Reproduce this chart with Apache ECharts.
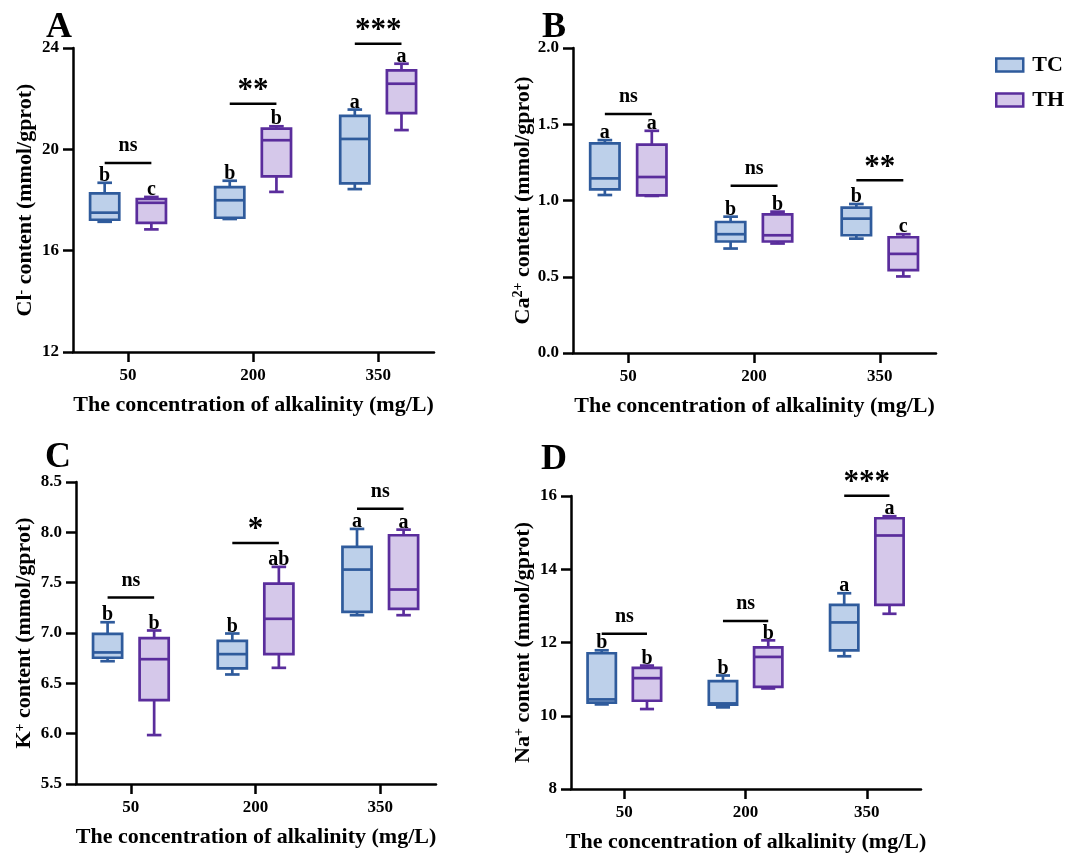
<!DOCTYPE html>
<html>
<head>
<meta charset="utf-8">
<script src="https://cdn.jsdelivr.net/npm/echarts@6/dist/echarts.min.js"></script>
<style>html,body{margin:0;background:#fff}#main{width:1069px;height:854px}</style>
</head>
<body>
<div id="main"></div>
<script>
const concentrations = [50, 200, 350];

// box stats per concentration: [min, Q1, median, Q3, max]
const clTC = [[17.14, 17.22, 17.5, 18.26, 18.68], [17.25, 17.3, 17.99, 18.51, 18.76], [18.43, 18.66, 20.41, 21.32, 21.57]];
const clTH = [[16.84, 17.1, 17.89, 18.04, 18.12], [18.32, 18.93, 20.36, 20.82, 20.91], [20.76, 21.43, 22.59, 23.12, 23.38]];
const caTC = [[1.036, 1.073, 1.145, 1.374, 1.396], [0.685, 0.731, 0.779, 0.859, 0.894], [0.75, 0.772, 0.881, 0.953, 0.977]];
const caTH = [[1.03, 1.034, 1.154, 1.367, 1.457], [0.718, 0.731, 0.772, 0.909, 0.927], [0.502, 0.543, 0.65, 0.759, 0.779]];
const kTC = [[6.72, 6.754, 6.807, 6.992, 7.107], [6.588, 6.648, 6.79, 6.922, 6.995], [7.177, 7.21, 7.63, 7.855, 8.034]];
const kTH = [[5.986, 6.334, 6.74, 6.949, 7.025], [6.654, 6.79, 7.141, 7.491, 7.657], [7.177, 7.24, 7.432, 7.971, 8.027]];
const naTC = [[10.31, 10.356, 10.446, 11.706, 11.787], [10.229, 10.301, 10.337, 10.945, 11.099], [11.624, 11.787, 12.548, 13.028, 13.345]];
const naTH = [[10.183, 10.41, 11.026, 11.307, 11.37], [10.745, 10.79, 11.606, 11.869, 12.059], [12.784, 13.028, 14.922, 15.393, 15.447]];

// letters of multiple comparison
const clTCLetters = ['b', 'b', 'a'];
const clTHLetters = ['c', 'b', 'a'];
const caTCLetters = ['a', 'b', 'b'];
const caTHLetters = ['a', 'b', 'c'];
const kTCLetters = ['b', 'b', 'a'];
const kTHLetters = ['b', 'ab', 'a'];
const naTCLetters = ['b', 'b', 'a'];
const naTHLetters = ['b', 'b', 'a'];

// TC vs TH significance and the height of its bar
const clSig = ['ns', '**', '***'];
const clSigY = [19.46, 21.8, 24.17];
const caSig = ['ns', 'ns', '**'];
const caSigY = [1.568, 1.097, 1.132];
const kSig = ['ns', '*', 'ns'];
const kSigY = [7.352, 7.895, 8.235];
const naSig = ['ns', 'ns', '***'];
const naSigY = [12.24, 12.584, 16.009];

const font = '"Liberation Serif", "Times New Roman", serif';
const tcStroke = '#2f5b9c', tcFill = '#bdd0ea';
const thStroke = '#5a2d9c', thFill = '#d5c8ea';
const OFFSET = 28;  // half distance between TC and TH boxes (x units)
const BOX_W = 35;

const myChart = echarts.init(document.getElementById('main'));

function boxRender(offset, stroke, fill, letters) {
  return function (params, api) {
    const x = api.value(0) + offset;
    const w = api.size([BOX_W, 0])[0];
    const cw = w / 2;
    const pMin = api.coord([x, api.value(1)]);
    const pQ1 = api.coord([x, api.value(2)]);
    const pMed = api.coord([x, api.value(3)]);
    const pQ3 = api.coord([x, api.value(4)]);
    const pMax = api.coord([x, api.value(5)]);
    const cx = pMin[0];
    const ls = { stroke: stroke, lineWidth: 2.7 };
    return {
      type: 'group',
      children: [
        { type: 'line', shape: { x1: cx, y1: pMax[1], x2: cx, y2: pQ3[1] }, style: ls },
        { type: 'line', shape: { x1: cx, y1: pQ1[1], x2: cx, y2: pMin[1] }, style: ls },
        { type: 'line', shape: { x1: cx - cw / 2, y1: pMax[1], x2: cx + cw / 2, y2: pMax[1] }, style: ls },
        { type: 'line', shape: { x1: cx - cw / 2, y1: pMin[1], x2: cx + cw / 2, y2: pMin[1] }, style: ls },
        { type: 'rect', shape: { x: cx - w / 2, y: pQ3[1], width: w, height: pQ1[1] - pQ3[1] },
          style: { fill: fill, stroke: stroke, lineWidth: 2.7 } },
        { type: 'line', shape: { x1: cx - w / 2, y1: pMed[1], x2: cx + w / 2, y2: pMed[1] }, style: ls },
        { type: 'text', x: cx, y: pMax[1] + 3,
          style: { text: letters[params.dataIndex], font: 'bold 20px ' + font, fill: '#000',
                   align: 'center', verticalAlign: 'bottom' } }
      ]
    };
  };
}

function sigRender(labels) {
  return function (params, api) {
    const c = api.value(0);
    const p1 = api.coord([c - OFFSET, api.value(1)]);
    const p2 = api.coord([c + OFFSET, api.value(1)]);
    const lab = labels[params.dataIndex];
    const star = lab !== 'ns';
    return {
      type: 'group',
      children: [
        { type: 'line', shape: { x1: p1[0], y1: p1[1], x2: p2[0], y2: p2[1] },
          style: { stroke: '#000', lineWidth: 2.5 } },
        { type: 'text', x: (p1[0] + p2[0]) / 2, y: p1[1] - (star ? -3 : 7),
          style: { text: lab, font: 'bold ' + (star ? 31 : 20) + 'px ' + font, fill: '#000',
                   align: 'center', verticalAlign: 'bottom' } }
      ]
    };
  };
}

function boxData(stats) {
  return stats.map(function (s, i) { return [concentrations[i]].concat(s); });
}

function panelSeries(idx, tc, th, tcLetters, thLetters, sig, sigY) {
  return [
    { name: 'TC', type: 'custom', xAxisIndex: idx, yAxisIndex: idx, clip: false,
      itemStyle: { color: tcFill, borderColor: tcStroke },
      encode: { x: 0, y: [1, 2, 3, 4, 5] },
      renderItem: boxRender(-OFFSET, tcStroke, tcFill, tcLetters), data: boxData(tc) },
    { name: 'TH', type: 'custom', xAxisIndex: idx, yAxisIndex: idx, clip: false,
      itemStyle: { color: thFill, borderColor: thStroke },
      encode: { x: 0, y: [1, 2, 3, 4, 5] },
      renderItem: boxRender(OFFSET, thStroke, thFill, thLetters), data: boxData(th) },
    { type: 'custom', xAxisIndex: idx, yAxisIndex: idx, clip: false,
      encode: { x: 0, y: 1 },
      renderItem: sigRender(sig),
      data: sigY.map(function (y, i) { return [concentrations[i], y]; }) }
  ];
}

function xAxisFor(i) {
  return {
    gridIndex: i, type: 'value', min: -16, max: 417,
    name: 'The concentration of alkalinity (mg/L)', nameLocation: 'middle', nameGap: 42,
    nameTextStyle: { fontFamily: font, fontWeight: 'bold', fontSize: 22, color: '#000' },
    axisLine: { show: true, onZero: false, lineStyle: { color: '#000', width: 2.5 } },
    axisTick: { show: true, length: 10, customValues: concentrations, lineStyle: { color: '#000', width: 2.5 } },
    axisLabel: { customValues: concentrations, margin: 15, fontFamily: font, fontWeight: 'bold', fontSize: 17, color: '#000' },
    splitLine: { show: false }
  };
}

function yAxisFor(i, min, max, interval, ion, sup, gap, digits) {
  return {
    gridIndex: i, type: 'value', min: min, max: max, interval: interval,
    name: '{n|' + ion + '}{s|' + sup + '}{n| content (mmol/gprot)}',
    nameLocation: 'middle', nameRotate: 90, nameGap: gap,
    nameTextStyle: {
      rich: {
        n: { fontFamily: font, fontWeight: 'bold', fontSize: 22, color: '#000' },
        s: { fontFamily: font, fontWeight: 'bold', fontSize: 14, color: '#000', verticalAlign: 'top' }
      }
    },
    axisLine: { show: true, onZero: false, lineStyle: { color: '#000', width: 2.5 } },
    axisTick: { show: true, length: 10, lineStyle: { color: '#000', width: 2.5 } },
    axisLabel: { margin: 14, fontFamily: font, fontWeight: 'bold', fontSize: 17, color: '#000',
      formatter: function (v) { return v.toFixed(digits); } },
    splitLine: { show: false }
  };
}

function panelLetter(text, x, y) {
  return { type: 'text', left: x, top: y,
    style: { text: text, font: 'bold 36px ' + font, fill: '#000' } };
}

const option = {
  animation: false,
  backgroundColor: '#fff',
  grid: [
    { left: 73, top: 48, width: 361, height: 304 },
    { left: 573, top: 48, width: 363, height: 305 },
    { left: 76, top: 482, width: 360, height: 302 },
    { left: 571, top: 496, width: 350, height: 294 }
  ],
  xAxis: [xAxisFor(0), xAxisFor(1), xAxisFor(2), xAxisFor(3)],
  yAxis: [
    yAxisFor(0, 12, 24, 4, 'Cl', '-', 37, 0),
    yAxisFor(1, 0, 2, 0.5, 'Ca', '2+', 39, 1),
    yAxisFor(2, 5.5, 8.5, 0.5, 'K', '+', 41, 1),
    yAxisFor(3, 8, 16, 2, 'Na', '+', 37, 0)
  ],
  legend: {
    orient: 'vertical', left: 995, top: 54, padding: 0, itemWidth: 27, itemHeight: 13, itemGap: 13,
    icon: 'rect',
    textStyle: { fontFamily: font, fontWeight: 'bold', fontSize: 22, color: '#000', padding: [0, 0, 0, 4] },
    data: [
      { name: 'TC', itemStyle: { color: tcFill, borderColor: tcStroke, borderWidth: 2.5 } },
      { name: 'TH', itemStyle: { color: thFill, borderColor: thStroke, borderWidth: 2.5 } }
    ]
  },
  graphic: [
    panelLetter('A', 46, 10),
    panelLetter('B', 542, 10),
    panelLetter('C', 45, 440),
    panelLetter('D', 541, 442)
  ],
  series: [].concat(
    panelSeries(0, clTC, clTH, clTCLetters, clTHLetters, clSig, clSigY),
    panelSeries(1, caTC, caTH, caTCLetters, caTHLetters, caSig, caSigY),
    panelSeries(2, kTC, kTH, kTCLetters, kTHLetters, kSig, kSigY),
    panelSeries(3, naTC, naTH, naTCLetters, naTHLetters, naSig, naSigY)
  )
};

myChart.setOption(option);
</script>
</body>
</html>
